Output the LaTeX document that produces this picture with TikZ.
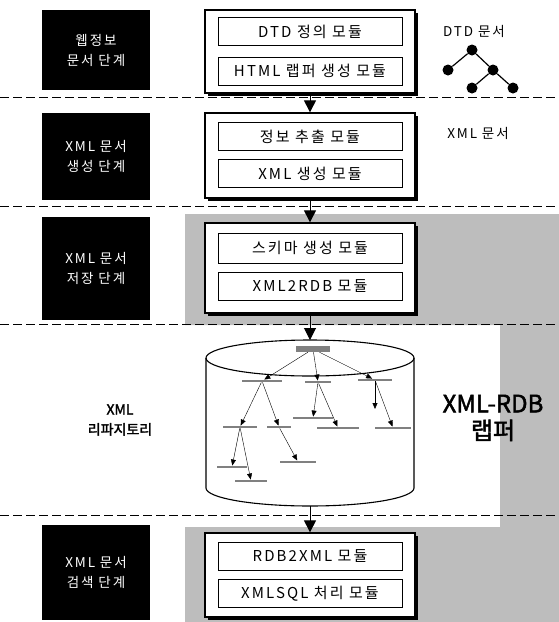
\documentclass[tikz,border=0pt]{standalone}
\usepackage{fontspec}
\setmainfont{Noto Sans CJK KR}[LetterSpace=14]
\newfontfamily\heavykr{Noto Sans CJK KR}[FakeBold=2]
\usetikzlibrary{positioning,arrows.meta,shadows}

\begin{document}
\begin{tikzpicture}[x=1pt,y=-1pt,
  stage/.style={fill=black, text=white, minimum width=108, align=center, font=\fontsize{13.5}{20}\selectfont},
  group/.style={draw, line width=1.3pt, fill=white, minimum width=210, drop shadow={shadow xshift=2.5pt, shadow yshift=-2.5pt, fill=black, opacity=1}},
  module/.style={draw, line width=0.6pt, fill=white, minimum width=184, minimum height=28, font=\fontsize{15}{17}\selectfont},
  flow/.style={-{Triangle[length=12pt,width=12pt]}, line width=1pt},
  divider/.style={dash pattern=on 9pt off 4pt, line width=0.8pt},
  wrapper/.style={fill=gray!52},
  repo/.style={line width=1.1pt},
  scrawl/.style={fill=black!50, minimum width=#1, minimum height=2.5, inner sep=0pt},
  branch/.style={-{Triangle[length=6pt,width=5pt]}, line width=0.4pt},
  treedot/.style={circle, fill=black, minimum size=11, inner sep=0pt},
  note/.style={font=\fontsize{13.5}{15}\selectfont}
]
\useasboundingbox (0,0) rectangle (559,622);

% wrapper backdrop
\fill[wrapper] (185,214) -- (559,214) -- (559,622) -- (185,622) -- (185,527) -- (500,527) -- (500,325) -- (185,325) -- cycle;

% stage dividers
\draw[divider] (0,97) -- (559,97);
\draw[divider] (0,206) -- (559,206);
\draw[divider] (0,324) -- (559,324);
\draw[divider] (0,515) -- (559,515);

% stages
\node[stage, minimum height=80] (webstage) at (96,50) {웹정보\\문서 단계};
\node[stage, minimum height=87] (genstage) at (96,156.5) {XML 문서\\생성 단계};
\node[stage, minimum height=103] (storestage) at (96,268.5) {XML 문서\\저장 단계};
\node[stage, minimum height=95] (searchstage) at (96,572.5) {XML 문서\\검색 단계};

% module groups
\node[group, minimum height=83] (parsegrp) at (310,51.5) {};
\node[module] (dtddef) at (310,31.5) {DTD 정의 모듈};
\node[module] (htmlwrap) at (310,71) {HTML 랩퍼 생성 모듈};

\node[group, minimum height=85] (gengrp) at (310,155.5) {};
\node[module] (extract) at (310,136.5) {정보 추출 모듈};
\node[module] (xmlgen) at (310,173.5) {XML 생성 모듈};

\node[group, minimum height=90] (storegrp) at (310,268) {};
\node[module, minimum height=30] (schema) at (310,248) {스키마 생성 모듈};
\node[module] (xml2rdb) at (310,286) {XML2RDB 모듈};

\node[group, minimum height=84] (searchgrp) at (310,575) {};
\node[module] (rdb2xml) at (310,556.5) {RDB2XML 모듈};
\node[module] (xmlsql) at (310,593.5) {XMLSQL 처리 모듈};

% repository
\draw[repo] (310,358) ellipse[x radius=104, y radius=18];
\draw[repo] (206,358) -- (206,488) arc[start angle=180, end angle=0, x radius=104, y radius=18] -- (414,358);
\coordinate (repotop) at (310,340);
\coordinate (repobot) at (310,506);
\node[font=\heavykr\fontsize{14}{20}\selectfont, align=center] (repolbl) at (120,420) {XML\\리파지토리};

% stored tree
\node[scrawl=34, minimum height=6] (troot) at (313,349) {};
\node[scrawl=40] (ta) at (262,381) {};
\node[scrawl=26] (tb) at (318,382) {};
\node[scrawl=34] (tc) at (375,380) {};
\node[scrawl=34] (taa) at (240,427) {};
\node[scrawl=24] (tab) at (279,427) {};
\node[scrawl=40] (tba) at (313,418) {};
\node[scrawl=42] (tbb) at (338,428) {};
\coordinate (tcend) at (375,409);
\node[scrawl=36] (tcb) at (393,428) {};
\node[scrawl=30] (taaa) at (232,467) {};
\node[scrawl=32] (taab) at (251,481) {};
\node[scrawl=36] (taba) at (298,462) {};

\draw[branch] (troot) -- (ta);
\draw[branch] (troot) -- (tb);
\draw[branch] (troot) -- (tc);
\draw[branch] (ta) -- (taa);
\draw[branch] (ta) -- (tab);
\draw[branch] (tb) -- (tba);
\draw[branch] (tb) -- (tbb);
\draw[branch] (tc) -- (tcend);
\draw[branch] (tc) -- (tcb);
\draw[branch] (taa) -- (taaa);
\draw[branch] (taa) -- (taab);
\draw[branch] (tab) -- (taba);

% flow between steps
\draw[flow] (parsegrp) -- (gengrp);
\draw[flow] (gengrp) -- (storegrp);
\draw[flow] (storegrp) -- (repotop);
\draw[flow] (repobot) -- (searchgrp);

% documents on the right
\node[note] (dtddoc) at (474,31) {DTD 문서};
\node[treedot] (d0) at (472,50) {};
\node[treedot] (d1) at (448,70) {};
\node[treedot] (d2) at (493,70) {};
\node[treedot] (d3) at (472,88) {};
\node[treedot] (d4) at (513,88) {};
\draw[line width=1.2pt] (d0) -- (d1) (d0) -- (d2) (d2) -- (d3) (d2) -- (d4);

\node[note] (xmldoc) at (478,133) {XML 문서};

\node[font=\heavykr\fontsize{24}{27}\selectfont, align=center] (wrapname) at (493,418) {XML-RDB\\랩퍼};

\end{tikzpicture}
\end{document}
